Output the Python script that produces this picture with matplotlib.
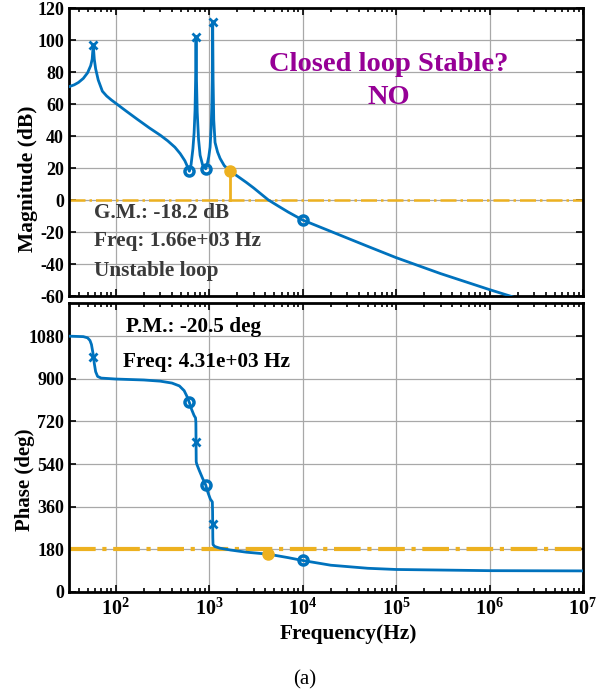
import matplotlib
matplotlib.use('Agg')
import matplotlib.pyplot as plt
from matplotlib.ticker import LogLocator, NullFormatter, FixedLocator

# ---------------- data ----------------
freq_mag = [31.6, 36, 40, 45, 50, 54, 56, 57.5, 59, 61, 65, 72, 80, 90, 100,
            130, 170, 230, 300, 360, 430, 490, 550, 595, 614, 640, 670, 690,
            706, 716, 724, 732, 745, 770, 800, 850, 918, 950, 990, 1023, 1050,
            1067, 1080, 1091, 1102, 1120, 1156, 1230, 1309, 1450, 1660, 2000,
            2500, 3000, 3500, 4310, 5500, 7000, 10000, 20000, 50000, 100000,
            300000, 1000000, 1660000, 10000000]
mag_db = [70.8, 72, 73.5, 76, 79.5, 84, 88, 97, 88, 82, 75, 68, 65, 62.5, 60.5,
          55.5, 50.5, 45, 40.5, 37, 33, 29, 24.5, 20, 18, 22, 32, 42,
          56, 75, 102, 75, 55, 38, 28, 22, 19.5, 22, 27, 33, 45,
          58, 75, 111, 75, 50, 36, 30, 26, 21.5, 18.2, 15,
          11, 7.5, 4.3, 0, -3.8, -7.5, -12.5, -19.6, -29, -36,
          -46, -56, -60, -76]

freq_ph = [31.6, 45, 50, 53, 55, 57, 58, 59, 61, 64, 70, 100, 200, 300, 400,
           480, 540, 580, 614, 650, 690, 715, 721, 724, 727, 735, 780, 850,
           918, 970, 1030, 1082, 1088, 1091, 1094, 1100, 1150, 1300, 1700,
           2500, 4310, 7000, 10000, 20000, 50000, 100000, 1000000, 10000000]
phase_deg = [1080, 1078, 1073, 1062, 1045, 1010, 990, 965, 930, 910, 903, 899,
             895, 890, 882, 870, 850, 825, 800, 770, 745, 735, 715, 632, 550,
             541, 515, 480, 452, 420, 392, 380, 340, 288, 230, 200, 192, 185,
             177, 168, 159.5, 145, 133, 113, 100, 95, 90, 89]

pole_freqs = [57.5, 724, 1091]
pole_mag = [97, 102, 111]
pole_phase = [990, 632, 288]
zero_freqs = [614, 918, 10000]
zero_mag = [18, 19.5, -12.5]
zero_phase = [800, 452, 133]

gm_freq = 1660
gm_mag = 18.2
pm_freq = 4310
pm_phase = 159.5
ref_mag = 0
ref_phase = 180

mag_ticks = [-60, -40, -20, 0, 20, 40, 60, 80, 100, 120]
phase_ticks = [0, 180, 360, 540, 720, 900, 1080]
x_ticks = [1e2, 1e3, 1e4, 1e5, 1e6, 1e7]
x_ticklabels = ['$10^{2}$', '$10^{3}$', '$10^{4}$', '$10^{5}$', '$10^{6}$', '$10^{7}$']

# ---------------- style ----------------
plt.rcParams['font.family'] = ['Liberation Serif', 'DejaVu Serif']
plt.rcParams['font.weight'] = 'bold'
plt.rcParams['axes.unicode_minus'] = False
plt.rcParams['mathtext.fontset'] = 'custom'
plt.rcParams['mathtext.rm'] = 'Liberation Serif:bold'
plt.rcParams['mathtext.it'] = 'Liberation Serif:bold:italic'
plt.rcParams['mathtext.bf'] = 'Liberation Serif:bold'

BLUE = '#0072BD'
ORANGE = '#EDB120'
PURPLE = '#960096'

fig = plt.figure(figsize=(6.11, 6.91), dpi=100)
ax1 = fig.add_axes([0.1129, 0.5716, 0.8412, 0.4168])
ax2 = fig.add_axes([0.1129, 0.1433, 0.8412, 0.4182])

for ax in (ax1, ax2):
    ax.set_xscale('log')
    ax.set_xlim(10 ** 1.5, 1e7)
    ax.xaxis.set_major_locator(FixedLocator(x_ticks))
    ax.xaxis.set_minor_locator(LogLocator(base=10, subs=range(2, 10), numticks=20))
    ax.xaxis.set_minor_formatter(NullFormatter())
    ax.grid(True, which='major', color='#a8a8a8', lw=0.9)
    ax.set_axisbelow(True)
    ax.tick_params(which='both', direction='in', top=True, right=True, width=1.2)
    ax.tick_params(axis='y', labelsize=13)
    ax.tick_params(axis='x', labelsize=14.5, pad=5)
    ax.tick_params(which='major', length=5)
    ax.tick_params(which='minor', length=3)
    for s in ax.spines.values():
        s.set_linewidth(2)

# magnitude
ax1.plot(freq_mag, mag_db, color=BLUE, lw=2.0, zorder=3)
ax1.plot(pole_freqs, pole_mag, ls='none', marker='x', ms=6, mew=2, color=BLUE, zorder=4)
ax1.plot(zero_freqs, zero_mag, ls='none', marker='o', ms=6.5, mew=2.5, mfc='none', color=BLUE, zorder=4)
ax1.axhline(ref_mag, color=ORANGE, lw=1.8, ls='-.', zorder=2)
ax1.plot([gm_freq, gm_freq], [ref_mag, gm_mag], color=ORANGE, lw=2, zorder=3)
ax1.plot([gm_freq], [gm_mag], ls='none', marker='o', ms=8, color=ORANGE, zorder=5)
ax1.set_ylim(-60, 120)
ax1.set_yticks(mag_ticks)
ax1.set_xticklabels([])
ax1.set_ylabel('Magnitude (dB)', fontsize=15.5, fontweight='bold', va='center')
ax1.yaxis.set_label_coords(-0.0798, 0.406)

txt_kw = dict(fontsize=15.3, fontweight='bold', va='baseline', ha='left')
ax1.text(0.048, 0.270, 'G.M.: -18.2 dB', transform=ax1.transAxes, color='#3a3a3a', **txt_kw)
ax1.text(0.048, 0.174, 'Freq: 1.66e+03 Hz', transform=ax1.transAxes, color='#3a3a3a', **txt_kw)
ax1.text(0.048, 0.069, 'Unstable loop', transform=ax1.transAxes, color='#3a3a3a', **txt_kw)
ax1.text(0.6226, 0.782, 'Closed loop Stable?', transform=ax1.transAxes,
         fontsize=20.5, color=PURPLE, fontweight='bold', ha='center', va='baseline')
ax1.text(0.6226, 0.667, 'NO', transform=ax1.transAxes,
         fontsize=20.5, color=PURPLE, fontweight='bold', ha='center', va='baseline')

# phase
ax2.plot(freq_ph, phase_deg, color=BLUE, lw=2.0, zorder=3)
ax2.plot(pole_freqs, pole_phase, ls='none', marker='x', ms=6, mew=2, color=BLUE, zorder=4)
ax2.plot(zero_freqs, zero_phase, ls='none', marker='o', ms=6.5, mew=2.5, mfc='none', color=BLUE, zorder=4)
ax2.axhline(ref_phase, color=ORANGE, lw=3, ls='-.', zorder=2)
ax2.plot([pm_freq], [pm_phase], ls='none', marker='o', ms=8, color=ORANGE, zorder=5)
ax2.set_ylim(0, 1220)
ax2.set_yticks(phase_ticks)
ax2.set_xticklabels(x_ticklabels)
ax2.set_ylabel('Phase (deg)', fontsize=15, fontweight='bold', va='center')
ax2.yaxis.set_label_coords(-0.0856, 0.3875)
ax2.set_xlabel('Frequency(Hz)', fontsize=15.4, fontweight='bold', va='center')
ax2.xaxis.set_label_coords(0.543, -0.145)

ax2.text(0.11, 0.9007, 'P.M.: -20.5 deg', transform=ax2.transAxes, color='black', **txt_kw)
ax2.text(0.105, 0.7796, 'Freq: 4.31e+03 Hz', transform=ax2.transAxes, color='black', **txt_kw)

fig.text(0.499, 0.016, '(a)', fontsize=15, fontweight='normal', ha='center', va='center')

fig.savefig('out.png', dpi=100)
